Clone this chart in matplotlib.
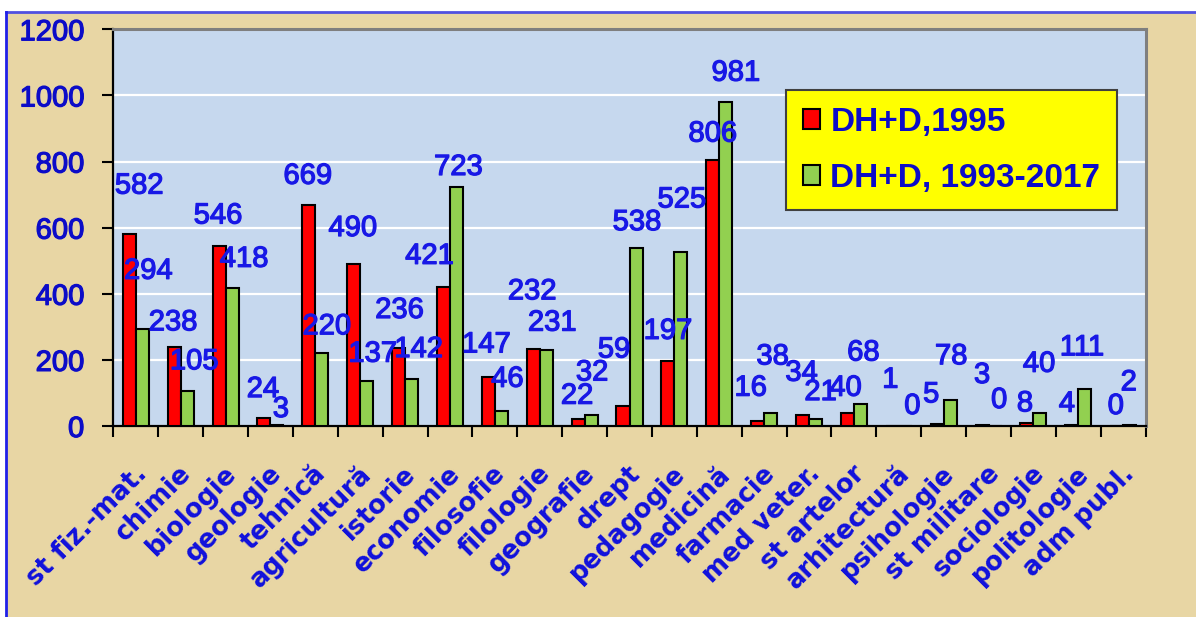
import matplotlib
matplotlib.use("Agg")
import matplotlib.pyplot as plt
import matplotlib.transforms as mtransforms
import matplotlib.patheffects as pe
from matplotlib.patches import Rectangle
from matplotlib.lines import Line2D
import numpy as np

# --- data -------------------------------------------------------------
categories = [
    "st fiz.-mat.", "chimie", "biologie", "geologie", "tehnică", "agricultură",
    "istorie", "economie", "filosofie", "filologie", "geografie", "drept",
    "pedagogie", "medicină", "farmacie", "med veter.", "st artelor",
    "arhitectură", "psihologie", "st militare", "sociologie", "politologie",
    "adm publ.",
]
values_1995 = [582, 238, 546, 24, 669, 490, 236, 421, 147, 232, 22, 59,
               197, 806, 16, 34, 40, 1, 5, 3, 8, 4, 0]
values_1993_2017 = [294, 105, 418, 3, 220, 137, 142, 723, 46, 231, 32, 538,
                    525, 981, 38, 21, 68, 0, 78, 0, 40, 111, 2]
series_names = ["DH+D,1995", "DH+D, 1993-2017"]
y_ticks = [0, 200, 400, 600, 800, 1000, 1200]

# hand-placed value labels: (dx, dy) in pixels from the top centre of each bar
label_nudge_1995 = [(10, 48), (-1, 25), (-1, 30), (-1, 29), (-1, 29), (-1, 36),
                    (1, 38), (-14, 31), (-2, 33), (-1, 58), (-1, 23), (-9, 57),
                    (0, 30), (0, 26), (-7, 33), (-1, 42), (-2, 25), (-2, 46),
                    (-6, 30), (0, 50), (-2, 20), (-5, 21), (-1, 20)]
label_nudge_1993_2017 = [(6, 58), (7, 30), (12, 29), (4, 16), (5, 27), (6, 27),
                         (7, 30), (2, 20), (6, 32), (6, 27), (1, 43), (1, 26),
                         (1, 53), (10, 29), (2, 57), (5, 27), (3, 51), (7, 20),
                         (1, 44), (4, 26), (-1, 49), (-3, 42), (-1, 43)]

# --- styling ----------------------------------------------------------
RED = "#FF0000"
GREEN = "#92D050"
PLOT_BG = "#C6D8EE"
PAGE_BG = "#E8D6A4"
FRAME_BLUE = "#5050E0"
TICK_BLUE = "#0C0CC8"
LABEL_BLUE = "#1818E6"
CAT_BLUE = "#1010DC"

plt.rcParams["font.family"] = ["Liberation Sans", "DejaVu Sans"]

W, H, DPI = 1196, 617, 100
fig = plt.figure(figsize=(W / DPI, H / DPI), dpi=DPI, facecolor="white")

# page background with blue frame on top and left
page = Rectangle((6 / W, 0), 1 - 6 / W, (H - 12) / H, transform=fig.transFigure,
                 facecolor=PAGE_BG, edgecolor="none", zorder=-10)
fig.patches.append(page)
fig.lines.append(Line2D([6 / W, 1], [(H - 12) / H] * 2, transform=fig.transFigure,
                        color=FRAME_BLUE, lw=2, zorder=-9))
fig.lines.append(Line2D([6 / W] * 2, [0, (H - 12) / H], transform=fig.transFigure,
                        color="#2020E8", lw=2, zorder=-9))

ax_left, ax_right = 113.3 / W, 1145.7 / W
ax_bottom, ax_top = (H - 426) / H, (H - 29.3) / H
ax = fig.add_axes([ax_left, ax_bottom, ax_right - ax_left, ax_top - ax_bottom])
ax.set_facecolor(PLOT_BG)

n = len(categories)
x = np.arange(n)
bw = 0.29
bars_a = ax.bar(x - bw / 2, values_1995, bw, color=RED, edgecolor="black",
                linewidth=1.5, label=series_names[0], zorder=3)
bars_b = ax.bar(x + bw / 2, values_1993_2017, bw, color=GREEN, edgecolor="black",
                linewidth=1.5, label=series_names[1], zorder=3)

ax.set_xlim(-0.5, n - 0.5)
ax.set_ylim(0, 1200)
ax.set_yticks(y_ticks)
ax.yaxis.grid(True, color="white", lw=1.6, zorder=1)
ax.set_axisbelow(True)

ax.set_xticks(np.arange(-0.5, n, 1.0))
ax.set_xticklabels([])
ax.tick_params(axis="x", direction="out", length=8, width=1.5, color="black")
ax.tick_params(axis="y", direction="out", length=8, width=1.5, color="black",
               labelsize=21, labelcolor=TICK_BLUE, pad=13)
for t in ax.get_yticklabels():
    t.set_path_effects([pe.withStroke(linewidth=0.9, foreground=TICK_BLUE)])

for side in ("left", "bottom"):
    ax.spines[side].set_color("black")
    ax.spines[side].set_linewidth(1.6)
for side in ("top", "right"):
    ax.spines[side].set_color("#7F7F7F")
    ax.spines[side].set_linewidth(2.2)

# value labels
thick = [pe.withStroke(linewidth=0.9, foreground=LABEL_BLUE)]
for bars, vals, nudges in ((bars_a, values_1995, label_nudge_1995),
                           (bars_b, values_1993_2017, label_nudge_1993_2017)):
    for rect, v, (dx, dy) in zip(bars, vals, nudges):
        ax.annotate(str(v), (rect.get_x() + rect.get_width() / 2, v),
                    xytext=(dx, dy), textcoords="offset pixels",
                    ha="center", va="center", fontsize=21, color=LABEL_BLUE,
                    zorder=5, annotation_clip=False, path_effects=thick)

# rotated category names
offset = mtransforms.ScaledTranslation(7 / DPI, -44 / DPI, fig.dpi_scale_trans)
for i, name in enumerate(categories):
    ax.text(i, 0, name, transform=ax.transData + offset, rotation=45,
            rotation_mode="anchor", ha="right", va="center", fontsize=18.5,
            fontweight="bold", color=CAT_BLUE, family=["DejaVu Sans"])

leg = ax.legend(loc="upper left", bbox_to_anchor=(0.652, 0.847), borderaxespad=0,
                frameon=True, fancybox=False, facecolor="#FFFF00",
                edgecolor="#404040", framealpha=1, handlelength=0.52,
                handleheight=0.52, handletextpad=0.3, labelspacing=0.75,
                borderpad=0.5, prop={"weight": "bold", "size": 24})
leg.get_frame().set_linewidth(1.5)
for t in leg.get_texts():
    t.set_color(TICK_BLUE)
for h in leg.legend_handles:
    h.set_linewidth(1.5)

fig.savefig("out.png", dpi=DPI, facecolor=fig.get_facecolor())
